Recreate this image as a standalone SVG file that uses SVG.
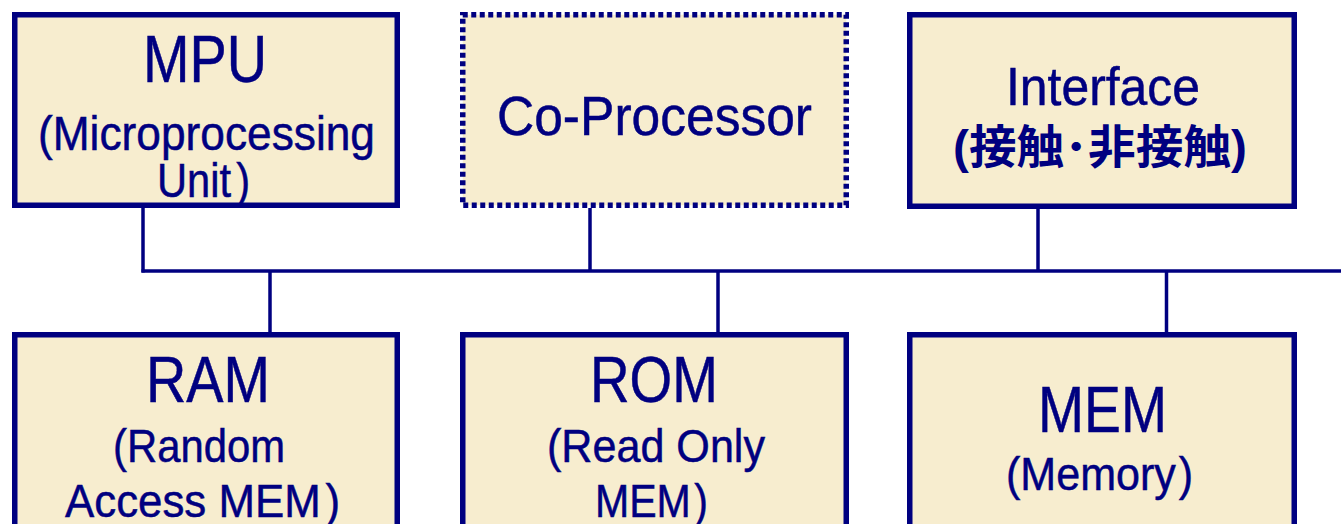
<svg xmlns="http://www.w3.org/2000/svg" width="1341" height="524" viewBox="0 0 1341 524">
<style>
.box{fill:#F7EDCF;stroke:#000080;stroke-width:5.5}
.dot{fill:#F7EDCF;stroke:#000080;stroke-width:5.5;stroke-dasharray:5 3.5}
.t{font-family:"Liberation Sans",Arial,sans-serif;fill:#000080;stroke:#000080;stroke-width:0.5;text-anchor:middle}
.cjk{font-family:"Liberation Sans","Noto Sans CJK JP",sans-serif;fill:#000080;text-anchor:middle;font-weight:bold}
.ln{stroke:#000080;stroke-width:3.5;fill:none}
</style>
<rect width="1341" height="524" fill="#ffffff"/>
<g id="connectors">
<line class="ln" x1="141.5" y1="271" x2="1341" y2="271"/>
<line class="ln" x1="143" y1="208" x2="143" y2="272.5"/>
<line class="ln" x1="590" y1="208" x2="590" y2="271"/>
<line class="ln" x1="1038" y1="208" x2="1038" y2="271"/>
<line class="ln" x1="270" y1="271" x2="270" y2="333"/>
<line class="ln" x1="718" y1="271" x2="718" y2="333"/>
<line class="ln" x1="1166.5" y1="271" x2="1166.5" y2="333"/>
</g>
<g id="mpu">
<rect class="box" x="14.75" y="14.75" width="382.5" height="190.5"/>
<text class="t" x="205" y="82" font-size="67" textLength="124" lengthAdjust="spacingAndGlyphs">MPU</text>
<text class="t" x="206.5" y="150" font-size="49" textLength="337" lengthAdjust="spacingAndGlyphs">(Microprocessing</text>
<text class="t" x="203.5" y="197" font-size="49" textLength="93" lengthAdjust="spacingAndGlyphs">Unit<tspan dx="6">)</tspan></text>
</g>
<g id="coprocessor">
<rect class="dot" x="462.75" y="14.75" width="383.5" height="190.5"/>
<text class="t" x="654.5" y="135" font-size="56" textLength="315" lengthAdjust="spacingAndGlyphs">Co-Processor</text>
</g>
<g id="interface">
<rect class="box" x="909.75" y="14.75" width="384.5" height="191.5"/>
<text class="t" x="1103" y="105" font-size="53" textLength="194" lengthAdjust="spacingAndGlyphs">Interface</text>
<text class="cjk" x="1100" y="163" font-size="46" textLength="294" lengthAdjust="spacingAndGlyphs">(接触･非接触)</text>
</g>
<g id="ram">
<rect class="box" x="14.75" y="334.75" width="382.5" height="200"/>
<text class="t" x="208" y="402" font-size="65" textLength="124" lengthAdjust="spacingAndGlyphs">RAM</text>
<text class="t" x="199" y="462" font-size="47" textLength="172" lengthAdjust="spacingAndGlyphs">(Random</text>
<text class="t" x="202.5" y="517" font-size="47" textLength="275" lengthAdjust="spacingAndGlyphs">Access MEM<tspan dx="5">)</tspan></text>
</g>
<g id="rom">
<rect class="box" x="462.75" y="334.75" width="383.5" height="200"/>
<text class="t" x="654" y="402" font-size="65" textLength="128" lengthAdjust="spacingAndGlyphs">ROM</text>
<text class="t" x="656" y="462" font-size="47" textLength="218" lengthAdjust="spacingAndGlyphs">(Read Only</text>
<text class="t" x="651.5" y="517" font-size="47" textLength="113" lengthAdjust="spacingAndGlyphs">MEM<tspan dx="4">)</tspan></text>
</g>
<g id="mem">
<rect class="box" x="909.75" y="334.75" width="384.5" height="200"/>
<text class="t" x="1102.5" y="432" font-size="65" textLength="129" lengthAdjust="spacingAndGlyphs">MEM</text>
<text class="t" x="1099.5" y="490" font-size="47" textLength="187" lengthAdjust="spacingAndGlyphs">(Memory<tspan dx="3">)</tspan></text>
</g>
</svg>
